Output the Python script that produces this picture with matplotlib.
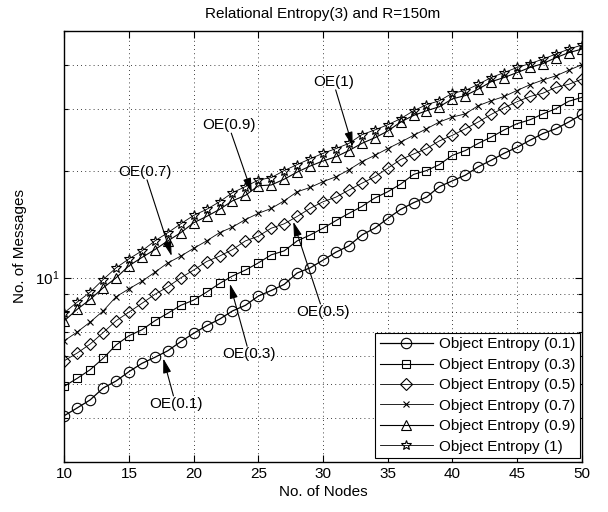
import numpy as np
import matplotlib
matplotlib.use("Agg")
import matplotlib.pyplot as plt
from matplotlib.ticker import NullFormatter, FixedLocator, LogLocator

plt.rcParams['font.family'] = ['Liberation Sans', 'DejaVu Sans']

nodes = list(range(10, 51))

oe_01 = [4.06, 4.27, 4.50, 4.86, 5.09, 5.41, 5.71, 5.94, 6.20, 6.58, 6.95, 7.30, 7.62, 8.04, 8.34,
         8.86, 9.19, 9.56, 10.3, 10.65, 11.2, 11.8, 12.3, 13.2, 13.8, 14.7, 15.6, 16.3, 16.9, 18.1,
         18.8, 19.5, 20.6, 21.5, 22.5, 23.4, 24.5, 25.6, 26.4, 27.6, 29.0]
oe_03 = [4.92, 5.18, 5.48, 5.90, 6.44, 6.84, 7.11, 7.54, 7.92, 8.34, 8.63, 9.09, 9.62, 10.1, 10.5,
         11.0, 11.6, 11.9, 12.7, 13.2, 13.8, 14.5, 15.2, 15.9, 16.8, 17.5, 18.4, 19.6, 20.1, 20.9,
         22.2, 22.9, 24.0, 25.0, 26.2, 27.3, 28.0, 29.1, 30.1, 31.6, 32.4]
oe_05 = [5.81, 6.11, 6.48, 6.98, 7.54, 7.98, 8.45, 8.96, 9.41, 9.98, 10.5, 11.1, 11.5, 12.0, 12.7,
         13.1, 13.8, 14.2, 14.9, 15.7, 16.4, 16.9, 17.7, 18.5, 19.3, 20.4, 21.6, 22.4, 23.2, 24.4,
         25.3, 26.4, 27.6, 29.0, 30.3, 31.5, 32.6, 33.3, 34.6, 35.3, 36.5]
oe_07 = [6.62, 7.01, 7.48, 8.04, 8.82, 9.29, 9.76, 10.35, 11.0, 11.5, 12.1, 12.7, 13.4, 13.9, 14.6,
         15.2, 15.7, 16.5, 17.5, 18.0, 18.7, 19.3, 20.2, 21.3, 22.2, 23.2, 24.2, 25.3, 26.4, 27.6,
         28.5, 29.1, 30.7, 31.7, 32.6, 33.9, 35.2, 36.3, 37.3, 38.7, 40.1]
oe_09 = [7.54, 8.13, 8.67, 9.35, 9.98, 10.8, 11.4, 12.0, 12.7, 13.4, 14.3, 14.9, 15.6, 16.5, 17.1,
         18.2, 18.3, 19.0, 19.9, 20.7, 21.4, 22.0, 22.9, 24.0, 24.9, 26.0, 27.6, 28.8, 29.7, 30.5,
         32.1, 32.8, 34.2, 35.9, 36.9, 38.1, 39.4, 40.4, 42.0, 43.4, 44.4]
oe_10 = [7.95, 8.52, 9.09, 9.87, 10.65, 11.3, 11.9, 12.7, 13.4, 14.2, 15.0, 15.6, 16.4, 17.4, 18.1,
         18.9, 19.2, 20.1, 20.9, 21.7, 22.5, 23.2, 24.0, 25.4, 26.2, 27.1, 28.2, 29.7, 30.9, 31.7,
         33.3, 33.9, 35.3, 36.9, 38.1, 39.4, 40.4, 41.6, 43.0, 44.4, 45.6]

labels = ["Object Entropy (0.1)", "Object Entropy (0.3)", "Object Entropy (0.5)",
          "Object Entropy (0.7)", "Object Entropy (0.9)", "Object Entropy (1)"]
series = [oe_01, oe_03, oe_05, oe_07, oe_09, oe_10]
markers = ['o', 's', 'D', 'x', '^', '*']
msizes = [7.5, 6, 6, 5, 7, 7.5]
lws = [0.9, 0.8, 0.6, 0.6, 0.8, 0.6]

# annotations: label, arrow tip (data), text position (data)
ann_text = ["OE(1)", "OE(0.9)", "OE(0.7)", "OE(0.5)", "OE(0.3)", "OE(0.1)"]
ann_tip = [(32.3, 23.5), (24.5, 17.4), (18.3, 11.5), (27.7, 14.4), (22.8, 9.6), (17.65, 5.9)]
ann_pos = [(30.8, 35.8), (22.7, 27.0), (16.2, 19.9), (30.0, 8.0), (24.3, 6.07), (18.6, 4.39)]

fig = plt.figure(figsize=(6.08, 5.12), dpi=100)
ax = fig.add_axes([0.1058, 0.0977, 0.8509, 0.8418])

for y, m, ms, lw, lab in zip(series, markers, msizes, lws, labels):
    ax.plot(nodes, y, color='black', lw=lw, marker=m, ms=ms, mfc='none' if m != 'x' else 'black',
            mec='black', mew=0.8, label=lab)

ax.set_yscale('log')
ax.set_xlim(10, 50)
ax.set_ylim(3, 50)
ax.set_xticks([10, 15, 20, 25, 30, 35, 40, 45, 50])
ax.yaxis.set_major_locator(FixedLocator([10]))
ax.yaxis.set_minor_locator(LogLocator(base=10, subs=np.arange(2, 10)))
ax.yaxis.set_minor_formatter(NullFormatter())
ax.tick_params(which='both', direction='in', top=True, right=True, labelsize=11, width=0.8)
ax.tick_params(which='major', length=5)
ax.tick_params(which='minor', length=3)

ax.grid(True, which='major', axis='x', color='black', linestyle=(0, (1, 4)), lw=0.6)
ax.grid(True, which='both', axis='y', color='black', linestyle=(0, (1, 4)), lw=0.6)
for s in ax.spines.values():
    s.set_linewidth(1.0)

ax.set_title("Relational Entropy(3) and R=150m", fontsize=11, pad=9)
ax.set_xlabel("No. of Nodes", fontsize=11, labelpad=3)
ax.set_ylabel("No. of Messages", fontsize=11, labelpad=6)

for t, tip, pos in zip(ann_text, ann_tip, ann_pos):
    ax.annotate(t, xy=tip, xytext=pos, ha='center', va='center', fontsize=11,
                bbox=dict(boxstyle='square,pad=0.05', fc='none', ec='none'),
                arrowprops=dict(arrowstyle='-|>,head_length=0.8,head_width=0.22',
                                color='black', lw=0.8, shrinkA=0, shrinkB=0))

leg = ax.legend(loc='lower right', bbox_to_anchor=(0.997, 0.009), fontsize=11,
                frameon=True, fancybox=False, edgecolor='black', framealpha=1,
                handlelength=3.5, labelspacing=0.42, borderpad=0.3, handletextpad=0.4,
                borderaxespad=0)
leg.get_frame().set_linewidth(0.8)

fig.savefig("out.png", dpi=100)
